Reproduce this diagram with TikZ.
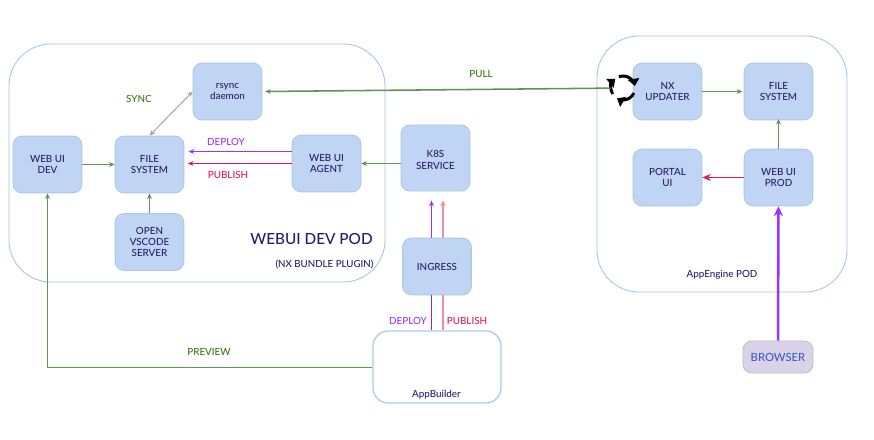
\documentclass[tikz,border=0pt]{standalone}
\usepackage{fontspec}
\setmainfont{Lato Medium}
\usepackage{xcolor}
\usetikzlibrary{
  positioning,
  calc,
  arrows.meta
}
\definecolor{navytext}{HTML}{2B1B6B}
\definecolor{boxfill}{HTML}{C0D4F3}
\definecolor{boxline}{HTML}{ABC9EC}
\definecolor{podline}{HTML}{9FC5E8}
\definecolor{flowgreen}{HTML}{5F9454}
\definecolor{labelgreen}{HTML}{38761D}
\definecolor{deploypurple}{HTML}{9933FF}
\definecolor{publishred}{HTML}{E0195A}
\definecolor{browserfill}{HTML}{D9D2E9}
\definecolor{browsertext}{HTML}{3C5BC8}

\begin{document}
\begin{tikzpicture}[
      x=0.025cm, y=-0.025cm,
      pod/.style={rectangle, rounded corners=1.05cm, draw=podline, line width=0.6pt, fill=white},
      service/.style={rectangle, rounded corners=0.22cm, draw=boxline, line width=0.6pt, fill=boxfill, text=navytext, minimum width=1.72cm, minimum height=1.42cm, inner sep=0pt, align=center, font=\fontsize{7}{8}\selectfont},
      tag/.style={text=navytext, inner sep=0pt, font=\fontsize{7}{8}\selectfont},
      arrow/.style={->, >={Stealth[length=4pt, width=3.5pt]}, flowgreen, line width=1.1pt},
      sync arrow/.style={->, >={Triangle[length=5pt, width=8pt]}, black, line width=2.1pt}
    ]
      \useasboundingbox (0,0) rectangle (874,440);

      % Pods
      \node[pod, minimum width=9.4cm, minimum height=5.95cm] (devpod) at (197,163) {};
      \node[pod, minimum width=6.25cm, minimum height=6.4cm] (enginepod) at (722,164) {};

      % WebUI dev pod
      \node[service] (rsync) at (227.5,91.5) {rsync\\daemon};
      \node[service] (webdev) at (47.5,164.5) {WEB UI\\DEV};
      \node[service] (filesys) at (149.5,164.5) {FILE\\SYSTEM};
      \node[service] (agent) at (326.5,163.5) {WEB UI\\AGENT};
      \node[service] (vscode) at (149.5,242) {OPEN\\VSCODE\\SERVER};

      % Ingress path
      \node[service, minimum height=1.65cm] (k8s) at (435.5,158) {\mbox{}\\K8S\\SERVICE};
      \node[service] (ingress) at (437,266.5) {INGRESS};
      \node[pod, rounded corners=0.38cm, draw=boxline, line width=0.9pt, minimum width=3.2cm, minimum height=1.8cm] (appbuilder) at (437,367) {};

      % AppEngine pod
      \node[service] (updater) at (667.5,91.5) {NX\\UPDATER};
      \node[service] (prodfs) at (778.5,91.5) {FILE\\SYSTEM};
      \node[service] (portal) at (667.5,177.5) {PORTAL\\UI};
      \node[service] (prod) at (778.5,177.5) {WEB UI\\PROD};
      \node[service, fill=browserfill, draw=gray!50, minimum width=1.75cm, minimum height=0.8cm, text=browsertext, font=\fontsize{8}{9}\selectfont] (browser) at (778,357) {BROWSER};

      % Sync icon
      \node[circle, inner sep=0pt, minimum size=0.6cm] (sync) at (623,88) {};
      \foreach \from/\to in {110/10, -25/-120, 210/130}
        \draw[sync arrow] ([shift={(\from:0.3cm)}]sync.center) arc[start angle=\from, end angle=\to, radius=0.3cm];

      % Arrows
      \coordinate (deployfrom) at ([yshift=0.3cm]agent.west);
      \draw[arrow] (webdev) -- (filesys);
      \draw[arrow] (vscode) -- (filesys);
      \draw[arrow] (k8s.west |- agent.east) -- (agent);
      \draw[arrow] (sync) -- ([xshift=2pt]rsync.east);
      \draw[arrow] (updater) -- ([xshift=-1pt]prodfs.west);
      \draw[arrow] (prod) -- ([yshift=1pt]prodfs.south);
      \draw[arrow, line width=1pt] (appbuilder.west |- 0,367.5) -| (webdev);
      \draw[<->, >={Stealth[length=4pt, width=3.5pt]}, gray!70, line width=0.7pt] (rsync.west) -- (filesys.north);
      \draw[arrow, deploypurple] (deployfrom) -- ([xshift=3pt]filesys.east |- deployfrom);
      \draw[arrow, publishred] (agent.west) -- ([xshift=2.5pt]filesys.east |- agent.west);
      \draw[arrow, publishred, >={Stealth[length=6pt, width=5pt]}] (prod) -- (portal);
      \draw[arrow, deploypurple, line width=0.9pt] (ingress.north -| 431.5,0) -- ([yshift=-6.5pt]k8s.south -| 431.5,0);
      \draw[arrow, publishred!50!white, line width=1.5pt, >={Stealth[length=4pt, width=4pt]}] (ingress.north -| 443,0) -- ([yshift=-6.5pt]k8s.south -| 443,0);
      \draw[deploypurple!85!black, line width=0.9pt] (appbuilder.north -| 431.5,0) -- (ingress.south -| 431.5,0);
      \draw[publishred!50!white, line width=1.5pt] (appbuilder.north -| 443,0) -- (ingress.south -| 443,0);
      \draw[arrow, deploypurple, line width=1.8pt, >={Stealth[length=7pt, width=6.5pt]}] (browser) -- (prod);

      % Labels
      \node[tag, text=labelgreen] (synclabel) at (139,99) {SYNC};
      \node[tag, text=labelgreen] (pulllabel) at (481,74) {PULL};
      \node[tag, text=labelgreen] (previewlabel) at (209,352) {PREVIEW};
      \node[tag, text=deploypurple] (deploytop) at (226,142) {DEPLOY};
      \node[tag, text=publishred] (publishtop) at (228,175) {PUBLISH};
      \node[tag, text=deploypurple] (deploylow) at (408,321) {DEPLOY};
      \node[tag, text=publishred] (publishlow) at (467,321) {PUBLISH};
      \node[tag, font=\fontsize{10.9}{13}\selectfont] (devtitle) at (311.5,239) {WEBUI DEV POD};
      \node[tag, font=\fontsize{6.9}{8}\selectfont] (devsub) at (324.5,264) {(NX BUNDLE PLUGIN)};
      \node[tag, font=\fontsize{7}{8}\selectfont] (enginetitle) at (722,275) {AppEngine POD};
      \node[tag, font=\fontsize{7}{8}\selectfont] (buildertitle) at (436.5,395) {AppBuilder};
    \end{tikzpicture}
\end{document}
